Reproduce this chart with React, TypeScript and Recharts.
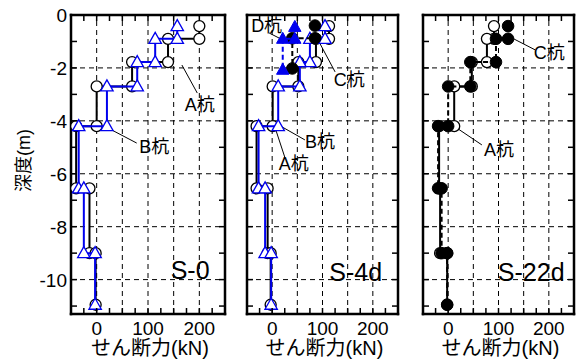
import React from 'react';
import { ScatterChart, Scatter, XAxis, YAxis, ReferenceLine, ReferenceDot, Label } from 'recharts';

const FONT = "'Liberation Sans', 'Noto Sans CJK JP', sans-serif";
const BLUE = '#0000ee';

// depth (m) of each step point, shared by all piles
const depths = [-0.42, -0.9, -0.9, -1.78, -1.78, -2.7, -2.7, -4.2, -4.2, -6.55, -6.55, -9.0, -9.0, -10.95];

// S-0 : shear force (kN)
const s0PileA = [200, 200, 139, 139, 69, 69, 0, 0, -40, -40, -14, -14, -2, -2];
const s0PileB = [157, 157, 114, 114, 79, 79, 20, 20, -35, -35, -25, -25, -3, -3];

// S-4d
const s4PileA = [113, 113, 87, 87, 52, 52, 1, 1, -31, -31, -9, -9, -3, -3];
const s4PileB = [105, 105, 75, 75, 55, 55, 12, 12, -27, -27, -14, -14, -2, -2];
const s4PileCDepth = [-0.4, -0.88, -0.88, -2.02];
const s4PileC = [85, 85, 40, 40];
const s4PileDDepth = [-0.45, -0.9, -0.9, -2.07];
const s4PileD = [45, 45, 21, 21];

// S-22d
const s22PileA = [91, 91, 77, 77, 47, 47, 12, 12, -18, -18, -16, -16, -2, -2];
const s22PileC = [119, 119, 95, 95, 44, 44, 0, 0, -20, -20, -13, -13, -2, -2];

// axes
const xMinorTicks = [-50, -25, 0, 25, 50, 75, 100, 125, 150, 175, 200, 225, 250];
const xLabelTicks = [0, 100, 200];
const xGrid = [0, 50, 100, 150, 200];
const yTicks = [0, -1, -2, -3, -4, -5, -6, -7, -8, -9, -10, -11];
const yLabelTicks = [0, -2, -4, -6, -8, -10];
const yGrid = [-2, -4, -6, -8, -10];

const pts = (xs: number[], ds: number[]) => xs.map((x, i) => ({ x, y: ds[i] }));

type Note = { text: string; tx: number; ty: number; l: [number, number, number, number] };

const notesS0: Note[] = [
  { text: 'A杭', tx: 201, ty: -3.37, l: [166, -1.89, 196, -2.95] },
  { text: 'B杭', tx: 112, ty: -4.99, l: [22, -4.27, 78, -4.84] },
];
const notesS4: Note[] = [
  { text: 'D杭', tx: -11, ty: -0.4, l: [-6, -0.68, 25, -0.98] },
  { text: 'C杭', tx: 153, ty: -2.46, l: [91, -0.94, 125, -2.15] },
  { text: 'B杭', tx: 95, ty: -4.8, l: [16, -4.19, 65, -4.72] },
  { text: 'A杭', tx: 43, ty: -5.63, l: [6, -4.27, 25, -5.37] },
];
const notesS22: Note[] = [
  { text: 'C杭', tx: 201, ty: -1.44, l: [127, -0.87, 173, -1.32] },
  { text: 'A杭', tx: 101, ty: -5.1, l: [17, -4.27, 67, -4.91] },
];

const openCircle = (p: any) => <circle cx={p.cx} cy={p.cy} r={5.5} fill="#fff" stroke="#000" strokeWidth={1.3} />;
const fillCircle = (p: any) => <circle cx={p.cx} cy={p.cy} r={5.8} fill="#000" stroke="#000" strokeWidth={1} />;
const triPoints = (cx: number, cy: number) => `${cx},${cy - 6.5} ${cx - 6.2},${cy + 4.5} ${cx + 6.2},${cy + 4.5}`;
const openTri = (p: any) => <polygon points={triPoints(p.cx, p.cy)} fill="#fff" stroke={BLUE} strokeWidth={1.3} />;
const fillTri = (p: any) => <polygon points={triPoints(p.cx, p.cy)} fill={BLUE} stroke={BLUE} strokeWidth={1} />;

const AXIS_LINE = { stroke: '#000', strokeWidth: 2.5, strokeLinecap: 'square' as const };

const BottomTick = (p: any) => (
  <g>
    <line x1={p.x} x2={p.x} y1={p.y} y2={p.y - 6} stroke="#000" strokeWidth={1.5} />
    {xLabelTicks.includes(p.payload.value) && (
      <text x={p.x} y={p.y + 21} textAnchor="middle" fontSize={19} fontFamily={FONT} fill="#000">
        {p.payload.value}
      </text>
    )}
  </g>
);
const TopTick = (p: any) => (
  <line x1={p.x} x2={p.x} y1={p.y} y2={p.y + 6} stroke="#000" strokeWidth={1.5} />
);
const makeLeftTick = (show: boolean) => (p: any) => (
  <g>
    <line x1={p.x} x2={p.x + 6} y1={p.y} y2={p.y} stroke="#000" strokeWidth={1.5} />
    {show && yLabelTicks.includes(p.payload.value) && (
      <text x={p.x - 4} y={p.y + 7} textAnchor="end" fontSize={19} fontFamily={FONT} fill="#000">
        {p.payload.value}
      </text>
    )}
  </g>
);
const RightTick = (p: any) => (
  <line x1={p.x} x2={p.x - 6} y1={p.y} y2={p.y} stroke="#000" strokeWidth={1.5} />
);

type SeriesDef = { data: { x: number; y: number }[]; shape: any; stroke: string; dashed: boolean };

function Panel(props: {
  left: number;
  right: number;
  showY: boolean;
  series: SeriesDef[];
  tag: string;
  tagX: number;
  tagY: number;
  notes: Note[];
}) {
  const { left, right, showY, series, tag, tagX, tagY, notes } = props;
  return (
    <div style={{ position: 'absolute', left: 0, top: 0 }}>
      <ScatterChart width={581} height={363} margin={{ top: 14, bottom: 48, left: left - 1, right: right - 1 }}>
        <XAxis
          xAxisId="b"
          type="number"
          dataKey="x"
          domain={[-50, 250]}
          allowDataOverflow
          ticks={xMinorTicks}
          interval={0}
          orientation="bottom"
          height={1}
          tickSize={0}
          tickMargin={0}
          tickLine={false}
          axisLine={AXIS_LINE}
          tick={BottomTick}
        >
          <Label value="せん断力(kN)" position="bottom" offset={26} dx={2} fontSize={20} fontFamily={FONT} fill="#000" />
        </XAxis>
        <XAxis
          xAxisId="t"
          type="number"
          dataKey="x"
          domain={[-50, 250]}
          allowDataOverflow
          ticks={xMinorTicks}
          interval={0}
          orientation="top"
          height={1}
          tickSize={0}
          tickMargin={0}
          tickLine={false}
          axisLine={AXIS_LINE}
          tick={TopTick}
        />
        <YAxis
          yAxisId="l"
          type="number"
          dataKey="y"
          domain={[-11.3, 0]}
          allowDataOverflow
          ticks={yTicks}
          interval={0}
          width={1}
          tickSize={0}
          tickMargin={0}
          tickLine={false}
          axisLine={AXIS_LINE}
          tick={makeLeftTick(showY)}
        >
          {showY && (
            <Label value="深度(m)" position="center" angle={-90} dx={-47} dy={-4} fontSize={18} fontFamily={FONT} fill="#000" />
          )}
        </YAxis>
        <YAxis
          yAxisId="r"
          orientation="right"
          type="number"
          dataKey="y"
          domain={[-11.3, 0]}
          allowDataOverflow
          ticks={yTicks}
          interval={0}
          width={1}
          tickSize={0}
          tickMargin={0}
          tickLine={false}
          axisLine={AXIS_LINE}
          tick={RightTick}
        />
        {xGrid.map((v) => (
          <ReferenceLine key={'gx' + v} xAxisId="b" yAxisId="l" x={v} stroke="#000" strokeWidth={1} strokeDasharray="5 4" />
        ))}
        {yGrid.map((v) => (
          <ReferenceLine key={'gy' + v} xAxisId="b" yAxisId="l" y={v} stroke="#000" strokeWidth={1} strokeDasharray="5 4" />
        ))}
        {notes.map((n, i) => (
          <ReferenceLine
            key={'nl' + i}
            xAxisId="b"
            yAxisId="l"
            ifOverflow="visible"
            segment={[{ x: n.l[0], y: n.l[1] }, { x: n.l[2], y: n.l[3] }]}
            stroke="#000"
            strokeWidth={1}
          />
        ))}
        {series.map((s, i) => (
          <Scatter
            key={'s' + i}
            xAxisId="b"
            yAxisId="l"
            data={s.data}
            shape={s.shape}
            line={{ stroke: s.stroke, strokeWidth: 2, strokeDasharray: s.dashed ? '5 3' : undefined }}
            lineType="joint"
            isAnimationActive={false}
          />
        ))}
        {notes.map((n, i) => (
          <ReferenceDot
            key={'nt' + i}
            xAxisId="b"
            yAxisId="l"
            x={n.tx}
            y={n.ty}
            r={0}
            ifOverflow="visible"
            stroke="none"
            label={{ value: n.text, position: 'center', fontSize: 18, fontFamily: FONT, fill: '#000' }}
          />
        ))}
        <ReferenceDot
          xAxisId="b"
          yAxisId="l"
          x={tagX}
          y={tagY}
          r={0}
          stroke="none"
          label={{ value: tag, position: 'center', fontSize: 25, fontFamily: FONT, fill: '#000' }}
        />
      </ScatterChart>
    </div>
  );
}

export default function App() {
  return (
    <div style={{ position: 'absolute', left: 0, top: 0, width: 581, height: 363, background: '#fff' }}>
      <Panel
        left={71}
        right={356}
        showY
        tag="S-0"
        tagX={182}
        tagY={-9.64}
        notes={notesS0}
        series={[
          { data: pts(s0PileA, depths), shape: openCircle, stroke: '#000', dashed: false },
          { data: pts(s0PileB, depths), shape: openTri, stroke: BLUE, dashed: false },
        ]}
      />
      <Panel
        left={247}
        right={183}
        showY={false}
        tag="S-4d"
        tagX={166}
        tagY={-9.71}
        notes={notesS4}
        series={[
          { data: pts(s4PileA, depths), shape: openCircle, stroke: '#000', dashed: false },
          { data: pts(s4PileB, depths), shape: openTri, stroke: BLUE, dashed: false },
          { data: pts(s4PileC, s4PileCDepth), shape: fillCircle, stroke: '#000', dashed: true },
          { data: pts(s4PileD, s4PileDDepth), shape: fillTri, stroke: BLUE, dashed: true },
        ]}
      />
      <Panel
        left={423}
        right={7}
        showY={false}
        tag="S-22d"
        tagX={165}
        tagY={-9.71}
        notes={notesS22}
        series={[
          { data: pts(s22PileA, depths), shape: openCircle, stroke: '#000', dashed: false },
          { data: pts(s22PileC, depths), shape: fillCircle, stroke: '#000', dashed: true },
        ]}
      />
    </div>
  );
}
